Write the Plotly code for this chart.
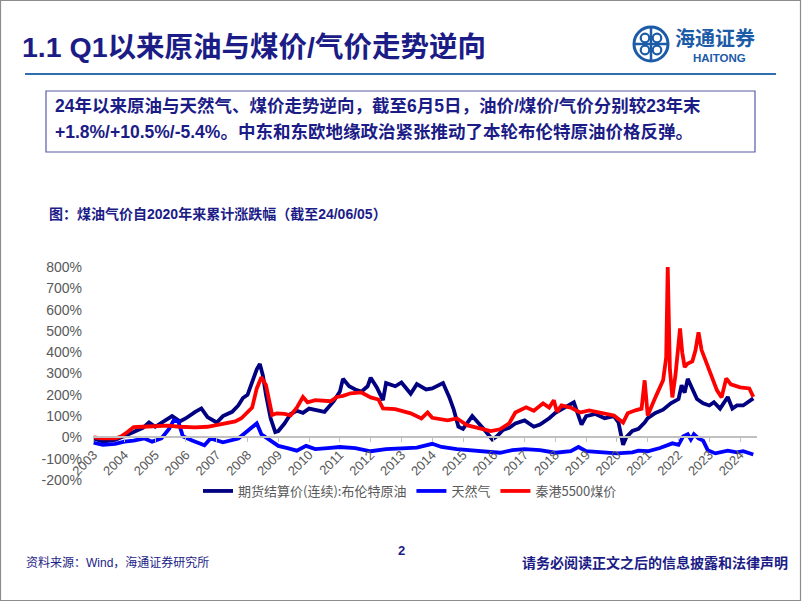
import plotly.graph_objects as go

# ---------------- data (decimal year, cumulative change %) ----------------
brent_t = [2003.0, 2003.3, 2003.7, 2004.0, 2004.3, 2004.6, 2004.8, 2005.0, 2005.3, 2005.55, 2005.8, 2006.0,
           2006.3, 2006.5, 2006.7, 2006.9, 2007.0, 2007.2, 2007.5, 2007.7, 2007.85, 2008.0, 2008.15, 2008.3,
           2008.4, 2008.5, 2008.6, 2008.75, 2008.9, 2009.0, 2009.2, 2009.4, 2009.6, 2009.8, 2010.0, 2010.3,
           2010.5, 2010.8, 2011.0, 2011.1, 2011.3, 2011.5, 2011.7, 2011.9, 2012.0, 2012.2, 2012.4, 2012.5,
           2012.8, 2013.0, 2013.3, 2013.5, 2013.8, 2014.0, 2014.35, 2014.55, 2014.7, 2014.85, 2015.0, 2015.3,
           2015.5, 2015.7, 2015.95, 2016.1, 2016.3, 2016.5, 2016.7, 2017.0, 2017.3, 2017.5, 2017.8, 2018.0,
           2018.3, 2018.6, 2018.85, 2019.0, 2019.3, 2019.6, 2019.9, 2020.05, 2020.2, 2020.3, 2020.5, 2020.7,
           2020.9, 2021.0, 2021.25, 2021.5, 2021.75, 2022.0, 2022.1, 2022.2, 2022.3, 2022.45, 2022.6, 2022.8,
           2023.0, 2023.15, 2023.35, 2023.6, 2023.75, 2023.9, 2024.1, 2024.43]
brent_v = [-5, -20, -12, 5, 25, 45, 70, 50, 80, 100, 75, 90,
           120, 136, 95, 75, 70, 100, 120, 150, 185, 200, 260, 320,
           345, 290, 200, 90, 25, 30, 65, 110, 125, 115, 135, 125,
           120, 170, 215, 275, 240, 225, 215, 240, 280, 235, 175, 255,
           240, 258, 205, 250, 225, 230, 255, 190, 130, 50, 40, 100,
           70, 35, -10, 5, 35, 45, 65, 80, 50, 60, 90, 115,
           140, 165, 60, 100, 110, 90, 100, 70, -35, 0, 30, 40,
           70, 90, 115, 130, 160, 180, 245, 210, 275, 230, 180, 160,
           150, 165, 135, 190, 135, 150, 150, 183]

gas_t = [2003.0, 2003.3, 2003.7, 2004.0, 2004.3, 2004.65, 2004.9, 2005.2, 2005.45, 2005.6, 2005.75, 2005.9,
         2006.2, 2006.6, 2006.8, 2007.2, 2007.7, 2008.0, 2008.3, 2008.45, 2008.7, 2009.0, 2009.3, 2009.6,
         2009.9, 2010.2, 2010.6, 2011.0, 2011.5, 2012.0, 2012.5, 2013.0, 2013.5, 2014.0, 2014.3, 2014.8,
         2015.3, 2015.8, 2016.2, 2016.6, 2017.0, 2017.5, 2018.0, 2018.5, 2018.75, 2019.0, 2019.5, 2020.0,
         2020.5, 2020.7, 2021.0, 2021.4, 2021.8, 2022.0, 2022.15, 2022.3, 2022.4, 2022.5, 2022.65, 2022.8,
         2022.95, 2023.2, 2023.6, 2023.9, 2024.1, 2024.43]
gas_v = [-25, -35, -30, -20, -15, -5, -20, -5, 40, 80, 75, 5,
         -15, -37, -5, -23, -5, 30, 66, 15, -10, -40, -50, -62,
         -40, -55, -50, -45, -50, -65, -55, -50, -48, -30, -45, -55,
         -60, -68, -72, -60, -55, -60, -72, -65, -45, -65, -72, -75,
         -70, -62, -65, -50, -28, -35, 5, 15, -10, 15, -5, -15,
         -60, -75, -62, -70, -65, -80]

coal_t = [2003.0, 2003.3, 2003.7, 2003.9, 2004.1, 2004.3, 2004.6, 2005.0, 2005.4, 2005.8, 2006.3, 2006.7,
          2006.9, 2007.3, 2007.6, 2007.8, 2008.0, 2008.15, 2008.3, 2008.45, 2008.6, 2008.7, 2008.8, 2008.95,
          2009.2, 2009.4, 2009.6, 2009.8, 2009.95, 2010.2, 2010.5, 2010.7, 2010.9, 2011.1, 2011.35, 2011.7,
          2012.0, 2012.25, 2012.4, 2012.8, 2013.3, 2013.65, 2013.85, 2014.0, 2014.5, 2014.8, 2015.15, 2015.5,
          2015.9, 2016.2, 2016.5, 2016.7, 2017.05, 2017.3, 2017.6, 2017.8, 2017.95, 2018.05, 2018.2, 2018.5,
          2018.8, 2019.1, 2019.5, 2019.9, 2020.2, 2020.35, 2020.6, 2020.8, 2020.9, 2021.0, 2021.25, 2021.5,
          2021.6, 2021.65, 2021.72, 2021.8, 2021.9, 2022.05, 2022.12, 2022.2, 2022.3, 2022.45, 2022.55, 2022.65,
          2022.75, 2022.95, 2023.1, 2023.25, 2023.4, 2023.55, 2023.7, 2024.0, 2024.3, 2024.43]
coal_v = [0, -5, -5, 5, 25, 48, 50, 52, 55, 50, 47, 50,
          56, 66, 75, 90, 117, 140, 230, 282, 245, 175, 105, 113,
          110, 103, 140, 190, 165, 175, 170, 170, 190, 195, 207, 211,
          188, 178, 136, 133, 113, 89, 117, 92, 80, 89, 56, 42,
          30, 38, 66, 117, 141, 125, 160, 140, 174, 120, 150, 140,
          117, 127, 113, 103, 70, 113, 127, 135, 268, 103, 188, 268,
          375, 800, 320, 188, 290, 512, 400, 330, 347, 357, 408, 493,
          410, 330, 282, 221, 188, 277, 249, 235, 230, 190]

years = list(range(2003, 2025))
y_ticks = [-200, -100, 0, 100, 200, 300, 400, 500, 600, 700, 800]

series_names = ["期货结算价(连续):布伦特原油", "天然气", "秦港5500煤价"]
series_colors = ["#000080", "#0000FF", "#FF0000"]

# ---------------- layout geometry ----------------
FW, FH = 802, 602
L, R, T, B = 93, 757, 267, 480
PW, PH = R - L, B - T


def px(x):
    return (x - L) / PW


def py(y):
    return (B - y) / PH


CJK = "Liberation Sans, Arial, Noto Sans CJK SC, sans-serif"
NAVY = "#1c1c87"
GRAY = "#595959"

fig = go.Figure()
for t, v, name, col in [(brent_t, brent_v, series_names[0], series_colors[0]),
                        (gas_t, gas_v, series_names[1], series_colors[1]),
                        (coal_t, coal_v, series_names[2], series_colors[2])]:
    fig.add_trace(go.Scatter(x=t, y=v, mode="lines", name=name,
                             line=dict(color=col, width=3.8)))

fig.update_layout(
    width=FW, height=FH,
    margin=dict(l=L, r=FW - R, t=T, b=FH - B),
    paper_bgcolor="white", plot_bgcolor="white",
    font=dict(family=CJK, color=GRAY),
    showlegend=True,
    legend=dict(orientation="h", x=px(198), y=py(491), xanchor="left", yanchor="middle",
                font=dict(size=13, color=GRAY, family="Noto Sans CJK SC, sans-serif"),
                itemwidth=30, bgcolor="rgba(0,0,0,0)", tracegroupgap=0),
    xaxis=dict(range=[2002.98, 2024.55], tickmode="array", tickvals=years,
               ticktext=[str(y) for y in years], tickangle=-45,
               showgrid=False, zeroline=False, showline=True, linecolor="#c0c0c0", linewidth=1.5,
               ticks="outside", ticklen=4, tickcolor="#c0c0c0",
               tickfont=dict(size=13, color=GRAY, family="Liberation Sans, Arial"),
               anchor="free", position=0.2),
    yaxis=dict(range=[-200, 800], tickmode="array", tickvals=y_ticks,
               ticktext=[f"{v}%" for v in y_ticks], showgrid=False, zeroline=False,
               showline=False, ticks="", ticklabelstandoff=10,
               tickfont=dict(size=14, color=GRAY, family="Liberation Sans, Arial")),
)

shapes = []
# slide frame
shapes.append(dict(type="rect", xref="paper", yref="paper", x0=px(0.5), x1=px(800.5), y0=py(0.5), y1=py(600.5),
                   line=dict(color="#8c8c8c", width=1.2), fillcolor="rgba(0,0,0,0)", layer="below"))
# header rule
shapes.append(dict(type="line", xref="paper", yref="paper", x0=px(25), x1=px(776), y0=py(74), y1=py(74),
                   line=dict(color="#2f6db0", width=2)))
# text box
shapes.append(dict(type="rect", xref="paper", yref="paper", x0=px(46), x1=px(755), y0=py(91), y1=py(152),
                   line=dict(color="#5a5aa8", width=1.2), fillcolor="rgba(0,0,0,0)"))
# logo
LB = "#1b5ba8"
cx, cy, r = 651, 44, 17
shapes.append(dict(type="circle", xref="paper", yref="paper", x0=px(cx - r), x1=px(cx + r), y0=py(cy + r), y1=py(cy - r),
                   line=dict(color=LB, width=3)))
r2 = 6
for dx, dy in [(-6, -6), (6, -6), (-6, 6), (6, 6)]:
    shapes.append(dict(type="circle", xref="paper", yref="paper",
                       x0=px(cx + dx - r2 / 1.4), x1=px(cx + dx + r2 / 1.4),
                       y0=py(cy + dy + r2 / 1.4), y1=py(cy + dy - r2 / 1.4),
                       line=dict(color=LB, width=2.2)))
shapes.append(dict(type="line", xref="paper", yref="paper", x0=px(cx - r), x1=px(cx + r), y0=py(cy), y1=py(cy),
                   line=dict(color=LB, width=2.5)))
shapes.append(dict(type="line", xref="paper", yref="paper", x0=px(cx), x1=px(cx), y0=py(cy - r), y1=py(cy + r),
                   line=dict(color=LB, width=2.5)))
fig.update_layout(shapes=shapes)

ann = []


def text(x, y, s, size, color, bold=False, xanchor="left", family=CJK):
    ann.append(dict(xref="paper", yref="paper", x=px(x), y=py(y), text=(f"<b>{s}</b>" if bold else s),
                    showarrow=False, xanchor=xanchor, yanchor="middle",
                    font=dict(size=size, color=color, family=family)))


text(20, 47, "1.1 Q1以来原油与煤价/气价走势逆向", 28.5, NAVY, bold=True)
text(673, 37, "海通证券", 20, LB, bold=True, family="Noto Sans CJK SC, sans-serif")
text(719, 58, "HAITONG", 11.5, LB, bold=True, xanchor="center", family="Liberation Sans, Arial")
text(53, 106, "24年以来原油与天然气、煤价走势逆向，截至6月5日，油价/煤价/气价分别较23年末", 17.5, NAVY, bold=True)
text(53, 132, "+1.8%/+10.5%/-5.4%。中东和东欧地缘政治紧张推动了本轮布伦特原油价格反弹。", 17.5, NAVY, bold=True)
text(47, 214, "图：煤油气价自2020年来累计涨跌幅（截至24/06/05）", 14, NAVY, bold=True)
text(24, 562, "资料来源：Wind，海通证券研究所", 12, NAVY)
text(401, 550, "2", 13, NAVY, bold=True, xanchor="center")
text(790, 563, "请务必阅读正文之后的信息披露和法律声明", 14, NAVY, bold=True, xanchor="right")
fig.update_layout(annotations=ann)

fig.write_html("out.html")
